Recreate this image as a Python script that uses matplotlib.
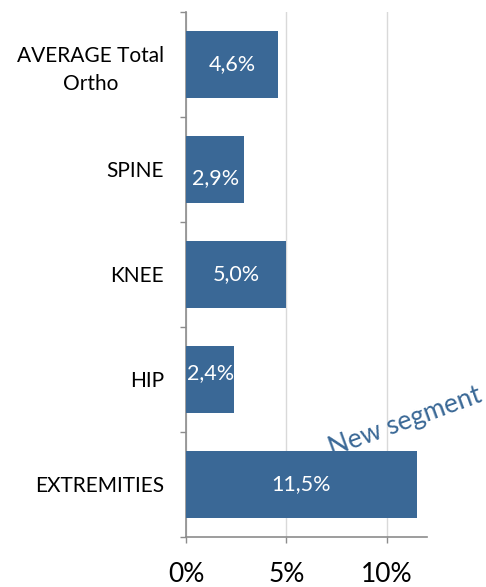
import numpy as np
import matplotlib.pyplot as plt
from matplotlib.ticker import FixedLocator, FuncFormatter

plt.rcParams['font.family'] = ['Lato', 'DejaVu Sans']

categories = ["AVERAGE Total\nOrtho", "SPINE", "KNEE", "HIP", "EXTREMITIES"]
values = [4.6, 2.9, 5.0, 2.4, 11.5]
value_labels = ["4,6%", "2,9%", "5,0%", "2,4%", "11,5%"]
xticks = [0, 5, 10]

BAR_COLOR = '#3A6896'
AXIS_GREY = '#8C8C8C'
GRID_GREY = '#D9D9D9'

fig = plt.figure(figsize=(4.86, 5.87), dpi=100)
ax = fig.add_axes([0.3827, 0.0852, 0.8786 - 0.3827, 0.9796 - 0.0852])

y = np.arange(len(categories))
ax.barh(y, values, height=0.63, color=BAR_COLOR, zorder=3)

# data labels, nudged a little like the original (small bars)
label_dy = [0, 0.08, 0, -0.06, 0]
for yi, v, lab, dy in zip(y, values, value_labels, label_dy):
    ax.text(v / 2, yi + dy, lab, ha='center', va='center', color='white',
            fontsize=15.5, zorder=4)

ax.set_xlim(0, 12)
ax.set_ylim(len(categories) - 0.5, -0.5)

ax.xaxis.set_major_locator(FixedLocator(xticks))
ax.xaxis.set_major_formatter(FuncFormatter(lambda v, p: f"{v:.0f}%"))
ax.tick_params(axis='x', direction='out', length=4, width=1, color=AXIS_GREY,
               labelsize=19, pad=14)
ax.grid(axis='x', color=GRID_GREY, linewidth=1, zorder=0)

ax.set_yticks(y)
ax.set_yticklabels(categories, fontsize=15, multialignment='center',
                   linespacing=1.45)
ax.set_yticks(np.arange(-0.5, len(categories)), minor=True)
ax.tick_params(axis='y', which='major', length=0, pad=16)
ax.tick_params(axis='y', which='minor', direction='out', length=4.5, width=1,
               color=AXIS_GREY)

for side in ('top', 'right'):
    ax.spines[side].set_visible(False)
for side in ('left', 'bottom'):
    ax.spines[side].set_color(AXIS_GREY)
    ax.spines[side].set_linewidth(1.2)

ax.text(0.91, 0.22, "New segment", transform=ax.transAxes, rotation=20,
        ha='center', va='center', color=BAR_COLOR, fontsize=19, clip_on=False)

fig.savefig('out.png', dpi=100)
